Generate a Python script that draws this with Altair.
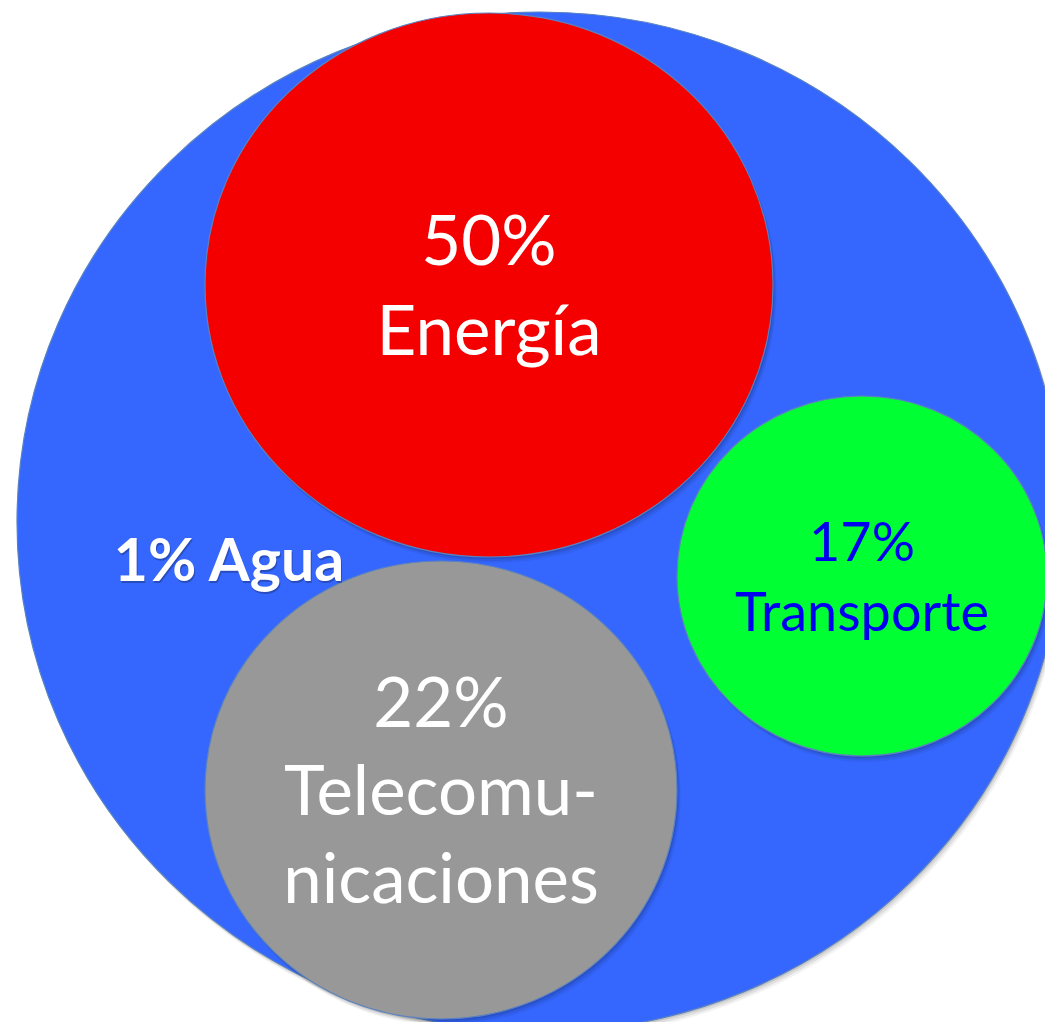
import altair as alt
import pandas as pd

# ---- data ----
categories = ["Agua", "Energía", "Transporte", "Telecomunicaciones"]
percent = [1, 50, 17, 22]
# bubble centres and semi-axes (in page pixels)
center_x = [540, 489, 862, 441]
center_y = [522, 285, 576, 790]
radius_x = [523, 284, 185, 236]
radius_y = [510, 272, 180, 229]
fill_colors = ["#3567FE", "#F40000", "#00FF33", "#989898"]

label_text = ["1% Agua", "50%\nEnergía", "17%\nTransporte", "22%\nTelecomu-\nnicaciones"]
label_x = [229, 489, 862, 441]
label_y = [563, 244, 545, 706]   # centre of each label's first line

W, H = 1037, 1014
X_DOMAIN = [8, 8 + W]
Y_DOMAIN = [8, 8 + H]


def ellipse_path(ratio):
    # unit ellipse (x in [-1, 1], y in [-ratio, ratio]) from four cubic curves
    k = 0.5523
    r = ratio
    f = lambda v: f"{v:.4f}"
    return (
        f"M -1 0 C -1 {f(-k*r)} {f(-k)} {f(-r)} 0 {f(-r)} "
        f"C {f(k)} {f(-r)} 1 {f(-k*r)} 1 0 "
        f"C 1 {f(k*r)} {f(k)} {f(r)} 0 {f(r)} "
        f"C {f(-k)} {f(r)} -1 {f(k*r)} -1 0 Z"
    )


df = pd.DataFrame({
    "category": categories,
    "percent": percent,
    "cx": center_x,
    "cy": center_y,
    "rx": radius_x,
    "ry": radius_y,
    "label": label_text,
    "lx": label_x,
    "ly": label_y,
})
df["shape"] = [ellipse_path(b / a) for a, b in zip(radius_x, radius_y)]
df["area"] = [(2 * a) ** 2 for a in radius_x]

xs = alt.Scale(domain=X_DOMAIN, nice=False, zero=False)
ys = alt.Scale(domain=Y_DOMAIN, nice=False, zero=False, reverse=True)

base = alt.Chart(df)

enc = dict(
    x=alt.X("cx:Q", scale=xs, axis=None),
    y=alt.Y("cy:Q", scale=ys, axis=None),
    size=alt.Size("area:Q", scale=None, legend=None),
    shape=alt.Shape("shape:N", scale=None, legend=None),
)


def shadow(filter_expr):
    layers = []
    for off, op in [(2, 0.10), (4, 0.08), (6, 0.05)]:
        layers.append(
            base.transform_filter(filter_expr)
            .mark_point(filled=True, color="black", opacity=op, xOffset=off * 0.6, yOffset=off, strokeWidth=0)
            .encode(**enc)
        )
    return layers


def bubbles(filter_expr):
    return (
        base.transform_filter(filter_expr)
        .mark_point(filled=True, opacity=1, stroke="#5A82C0", strokeWidth=1.2)
        .encode(
            color=alt.Color("category:N", scale=alt.Scale(domain=categories, range=fill_colors), legend=None),
            **enc,
        )
    )


outer = "datum.category == 'Agua'"
inner = "datum.category != 'Agua'"

text_enc = dict(
    x=alt.X("lx:Q", scale=xs, axis=None),
    y=alt.Y("ly:Q", scale=ys, axis=None),
    text=alt.Text("label:N"),
)

red_white = (
    base.transform_filter("datum.category == 'Energía'")
    .mark_text(font="Lato", fontSize=69, lineHeight=90, color="white", align="center", baseline="middle", lineBreak="\n")
    .encode(**text_enc)
)
gray_white = (
    base.transform_filter("datum.category == 'Telecomunicaciones'")
    .mark_text(font="Lato", fontSize=69, lineHeight=88, color="white", align="center", baseline="middle", lineBreak="\n")
    .encode(**text_enc)
)
green_text = (
    base.transform_filter("datum.category == 'Transporte'")
    .mark_text(font="Lato", fontSize=54, lineHeight=70, color="#0000F0", align="center", baseline="middle", lineBreak="\n")
    .encode(**text_enc)
)
agua_shadow = (
    base.transform_filter(outer)
    .mark_text(font="Lato", fontSize=59, fontWeight="bold", color="black", opacity=0.25, dx=1, dy=2,
               align="center", baseline="middle")
    .encode(**text_enc)
)
agua_text = (
    base.transform_filter(outer)
    .mark_text(font="Lato", fontSize=59, fontWeight="bold", color="white", align="center", baseline="middle")
    .encode(**text_enc)
)

chart = (
    alt.layer(
        *shadow(outer),
        bubbles(outer),
        *shadow(inner),
        bubbles(inner),
        red_white,
        gray_white,
        green_text,
        agua_shadow,
        agua_text,
    )
    .properties(width=W, height=H, padding=0, autosize="none", background="white")
    .configure_view(stroke=None)
)

chart.save("out.html", embed_options={"renderer": "svg", "actions": False})
